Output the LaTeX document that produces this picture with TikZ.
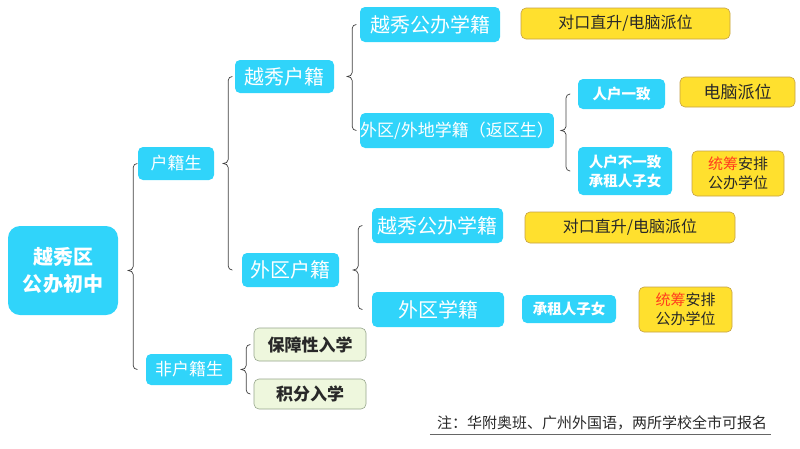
\documentclass[tikz,border=0pt]{standalone}
\usepackage{fontspec}
\setmainfont{Noto Sans CJK SC}
\usetikzlibrary{calc}

\definecolor{boxCyan}{RGB}{48,212,250}
\definecolor{boxYellow}{RGB}{255,224,46}
\definecolor{edgeYellow}{RGB}{196,160,70}
\definecolor{boxGreen}{RGB}{238,247,221}
\definecolor{edgeGreen}{RGB}{150,165,140}
\definecolor{txtDark}{RGB}{40,40,40}
\definecolor{txtRed}{RGB}{255,60,30}

% brace from a parent node to its first and last child
% #1 parent, #2 top child, #3 bottom child, #4 gap right of the parent
\newcommand{\branch}[4]{%
    \draw[braceStyle] let \p1=(#1.east), \p2=(#2.west), \p3=(#3.west),
        \n1={\x1+#4} in
        (\n1+4pt,\y2) to[out=180,in=90] (\n1,\y2-4pt)
        -- (\n1,\y1+4pt) to[out=-90,in=0] (\n1-5pt,\y1)
        to[out=0,in=90] (\n1,\y1-4pt)
        -- (\n1,\y3+4pt) to[out=-90,in=180] (\n1+4pt,\y3);
}

\begin{document}
\begin{tikzpicture}[
    x=1pt, y=-1pt,
    % Define the style for the blue category boxes
    catNode/.style={
        rectangle,
        rounded corners=5pt,
        fill=boxCyan,
        text=white,
        inner sep=0pt,
        align=center
    },
    % Define the style for the yellow result boxes
    resNode/.style={
        rectangle,
        rounded corners=5pt,
        fill=boxYellow,
        draw=edgeYellow,
        line width=0.6pt,
        text=txtDark,
        inner sep=0pt,
        align=center
    },
    % Define the style for the green boxes
    entNode/.style={
        rectangle,
        rounded corners=5pt,
        fill=boxGreen,
        draw=edgeGreen,
        line width=0.6pt,
        text=txtDark,
        inner sep=0pt,
        font=\fontsize{17}{20}\selectfont\bfseries
    },
    % Define the style for the braces
    braceStyle/.style={
        draw=black!75,
        line width=0.7pt,
        line cap=round
    }
]
    \useasboundingbox (0,0) rectangle (800,448);

    % --- ROOT ---
    \node[catNode, rounded corners=12pt, minimum width=110pt, minimum height=89pt,
        font=\fontsize{20}{27}\selectfont\bfseries] (root) at (63,270.5)
        {越秀区\\公办初中};

    % --- FIRST LEVEL ---
    \node[catNode, minimum width=76pt, minimum height=33pt,
        font=\fontsize{17}{20}\selectfont] (huji) at (176,163.5) {户籍生};
    \node[catNode, minimum width=86pt, minimum height=31pt,
        font=\fontsize{17}{20}\selectfont] (feihuji) at (189,369.5) {非户籍生};

    % --- SECOND LEVEL ---
    \node[catNode, minimum width=99pt, minimum height=33pt,
        font=\fontsize{20}{24}\selectfont] (yxHuji) at (284.5,76.5) {越秀户籍};
    \node[catNode, minimum width=97pt, minimum height=34pt,
        font=\fontsize{20}{24}\selectfont] (wqHuji) at (290.5,270) {外区户籍};
    \node[entNode, minimum width=112pt, minimum height=33pt] (baozhang) at (310,344.5) {保障性入学};
    \node[entNode, minimum width=112pt, minimum height=30pt] (jifen) at (310,394) {积分入学};

    % --- THIRD LEVEL ---
    \node[catNode, minimum width=140pt, minimum height=35pt,
        font=\fontsize{20}{24}\selectfont] (yxXuejiA) at (430,24.5) {越秀公办学籍};
    \node[catNode, minimum width=192pt, minimum height=35pt,
        font=\fontsize{17}{20}\selectfont] (fanqu) at (457,130.5) {外区/外地学籍（返区生）};
    \node[catNode, minimum width=131pt, minimum height=35pt,
        font=\fontsize{20}{24}\selectfont] (yxXuejiB) at (437.5,225.5) {越秀公办学籍};
    \node[catNode, minimum width=132pt, minimum height=35pt,
        font=\fontsize{20}{24}\selectfont] (wqXueji) at (438,309.5) {外区学籍};

    % --- FOURTH LEVEL ---
    \node[catNode, minimum width=87pt, minimum height=30pt,
        font=\fontsize{14.5}{18}\selectfont\bfseries] (yizhi) at (621.5,94) {人户一致};
    \node[catNode, minimum width=94pt, minimum height=48pt,
        font=\fontsize{14.5}{19}\selectfont\bfseries] (buyizhi) at (625,171) {人户不一致\\承租人子女};
    \node[catNode, minimum width=94pt, minimum height=28pt,
        font=\fontsize{14.5}{18}\selectfont\bfseries] (zuhu) at (569,309) {承租人子女};

    % --- RESULTS ---
    \node[resNode, minimum width=209pt, minimum height=31pt,
        font=\fontsize{16}{20}\selectfont] (resA) at (625.5,23.5) {对口直升/电脑派位};
    \node[resNode, minimum width=115pt, minimum height=30pt,
        font=\fontsize{17}{20}\selectfont] (resB) at (737.5,92) {电脑派位};
    \node[resNode, minimum width=92pt, minimum height=45pt,
        font=\fontsize{15}{19}\selectfont] (resC) at (738,173.5)
        {\textcolor{txtRed}{统筹}安排\\公办学位};
    \node[resNode, minimum width=210pt, minimum height=31pt,
        font=\fontsize{16}{20}\selectfont] (resD) at (630,227.5) {对口直升/电脑派位};
    \node[resNode, minimum width=93pt, minimum height=45pt,
        font=\fontsize{15}{19}\selectfont] (resE) at (685.5,309.5)
        {\textcolor{txtRed}{统筹}安排\\公办学位};

    % --- NOTE ---
    \node[text=txtDark, font=\fontsize{15}{18}\selectfont, inner sep=0pt] (note) at (602,423)
        {注：华附奥班、广州外国语，两所学校全市可报名};
    \draw[draw=black!60, line width=0.8pt] ($(note.south west)+(-7,4)$) coordinate (lineL)
        -- ($(note.south east)+(4,4)$) coordinate (lineR);

    % --- BRACES ---
    \branch{root}{huji}{feihuji}{15pt}
    \branch{huji}{yxHuji}{wqHuji}{14pt}
    \branch{yxHuji}{yxXuejiA}{fanqu}{18pt}
    \branch{fanqu}{yizhi}{buyizhi}{12pt}
    \branch{wqHuji}{yxXuejiB}{wqXueji}{19pt}
    \branch{feihuji}{baozhang}{jifen}{14pt}

\end{tikzpicture}
\end{document}
